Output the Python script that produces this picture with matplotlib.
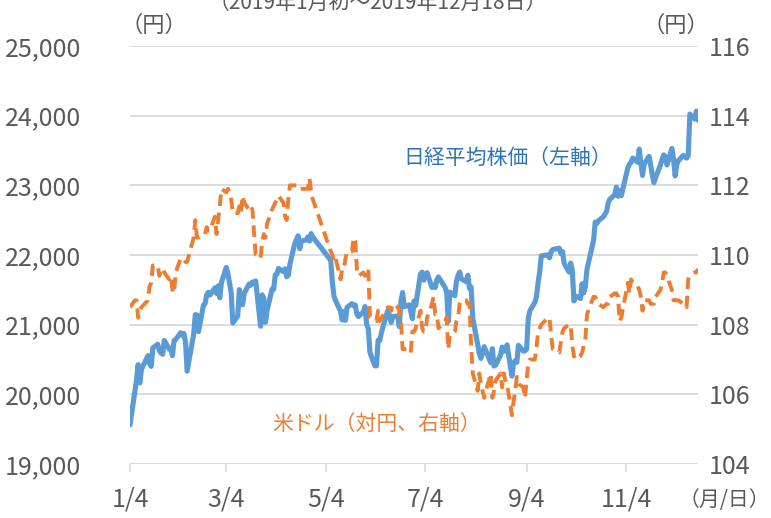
import matplotlib
matplotlib.use("Agg")
import matplotlib.pyplot as plt
import numpy as np
import pandas as pd

plt.rcParams['font.family'] = ['Noto Sans CJK JP', 'DejaVu Sans']

# ---- data (Japanese trading days, 2019) ----
jan_days = ["01-04","01-07","01-08","01-09","01-10","01-11","01-15","01-16","01-17","01-18",
            "01-21","01-22","01-23","01-24","01-25","01-28","01-29","01-30","01-31"]
feb_days = ["02-01","02-04","02-05","02-06","02-07","02-08","02-12","02-13","02-14","02-15",
            "02-18","02-19","02-20","02-21","02-22","02-25","02-26","02-27","02-28"]
mar_days = ["03-01","03-04","03-05","03-06","03-07","03-08","03-11","03-12","03-13","03-14",
            "03-15","03-18","03-19","03-20","03-22","03-25","03-26","03-27","03-28","03-29"]
apr_days = ["04-01","04-02","04-03","04-04","04-05","04-08","04-09","04-10","04-11","04-12",
            "04-15","04-16","04-17","04-18","04-19","04-22","04-23","04-24","04-25","04-26"]
may_days = ["05-07","05-08","05-09","05-10","05-13","05-14","05-15","05-16","05-17","05-20",
            "05-21","05-22","05-23","05-24","05-27","05-28","05-29","05-30","05-31"]
jun_days = ["06-03","06-04","06-05","06-06","06-07","06-10","06-11","06-12","06-13","06-14",
            "06-17","06-18","06-19","06-20","06-21","06-24","06-25","06-26","06-27","06-28"]
jul_days = ["07-01","07-02","07-03","07-04","07-05","07-08","07-09","07-10","07-11","07-12",
            "07-16","07-17","07-18","07-19","07-22","07-23","07-24","07-25","07-26","07-29",
            "07-30","07-31"]
aug_days = ["08-01","08-02","08-05","08-06","08-07","08-08","08-09","08-13","08-14","08-15",
            "08-16","08-19","08-20","08-21","08-22","08-23","08-26","08-27","08-28","08-29","08-30"]
sep_days = ["09-02","09-03","09-04","09-05","09-06","09-09","09-10","09-11","09-12","09-13",
            "09-17","09-18","09-19","09-20","09-24","09-25","09-26","09-27","09-30"]
oct_days = ["10-01","10-02","10-03","10-04","10-07","10-08","10-09","10-10","10-11","10-15",
            "10-16","10-17","10-18","10-21","10-23","10-24","10-25","10-28","10-29","10-30","10-31"]
nov_days = ["11-01","11-05","11-06","11-07","11-08","11-11","11-12","11-13","11-14","11-15",
            "11-18","11-19","11-20","11-21","11-22","11-25","11-26","11-27","11-28","11-29"]
dec_days = ["12-02","12-03","12-04","12-05","12-06","12-09","12-10","12-11","12-12","12-13",
            "12-16","12-17","12-18"]

nikkei = [
    19561,20038,20204,20427,20163,20359,20555,20442,20402,20666,20719,20622,20593,20574,20773,20649,20664,20556,20773,
    20788,20883,20844,20874,20751,20333,20864,21144,21139,20900,21281,21302,21431,21464,21425,21528,21449,21556,21385,
    21602,21822,21726,21596,21456,21025,21125,21503,21290,21287,21451,21584,21566,21608,21627,20977,21428,21378,21033,21205,
    21509,21505,21713,21724,21807,21761,21802,21687,21711,21870,22169,22221,22277,22090,22200,22217,22259,22200,22307,22258,
    21923,21602,21402,21344,21191,21067,21188,21062,21250,21301,21272,21283,21151,21117,21182,21260,21003,20942,20601,
    20410,20408,20776,20774,20884,21134,21204,21129,21032,21116,21124,20972,21333,21462,21258,21285,21193,21086,21338,21275,
    21729,21754,21638,21702,21746,21534,21565,21533,21643,21685,21535,21469,21046,21466,21416,21620,21709,21756,21658,21616,21709,21521,
    21540,21087,20720,20585,20516,20593,20684,20455,20655,20405,20418,20563,20677,20618,20628,20710,20261,20456,20479,20460,20704,
    20620,20625,20649,21085,21199,21318,21392,21597,21759,21988,22001,21960,22044,22079,22098,22020,22048,21878,21755,
    21885,21778,21341,21410,21375,21587,21456,21551,21798,22207,22472,22451,22492,22548,22625,22750,22799,22867,22974,22843,22927,
    22850,23251,23303,23330,23391,23331,23520,23319,23141,23303,23416,23292,23148,23038,23112,23292,23373,23437,23409,23293,
    23529,23379,23135,23300,23354,23430,23410,23391,23424,24023,23952,24066,23934,
]

usdjpy = [
    108.5,108.7,108.7,108.2,108.4,108.5,108.7,109.1,109.2,109.7,109.7,109.4,109.6,109.6,109.5,109.3,109.4,109.0,108.9,
    109.5,109.9,109.9,109.9,109.8,109.8,110.5,111.0,110.5,110.5,110.6,110.6,110.8,110.7,110.7,111.1,110.6,111.0,111.4,
    111.9,111.8,111.9,111.8,111.6,111.2,111.2,111.4,111.2,111.7,111.5,111.3,111.4,111.3,110.0,109.9,110.4,110.6,110.5,110.9,
    111.3,111.4,111.5,111.6,111.7,111.5,111.1,111.0,111.6,112.0,112.0,112.0,112.0,111.9,111.9,111.9,111.9,112.2,111.8,111.6,
    110.1,110.0,109.8,109.9,109.3,109.6,109.6,109.9,110.1,110.1,110.5,110.4,109.6,109.4,109.5,109.4,109.6,109.6,108.2,
    108.1,108.1,108.4,108.1,108.2,108.4,108.5,108.5,108.4,108.6,108.5,108.4,108.1,107.3,107.3,107.3,107.2,107.8,107.8,107.9,
    108.4,107.9,107.8,107.8,108.2,108.6,108.8,108.3,108.3,107.9,108.1,108.2,107.3,107.7,107.8,108.1,108.2,108.6,108.7,108.7,108.6,108.6,
    107.4,106.6,106.1,106.6,106.3,106.1,105.9,106.6,105.9,106.1,106.4,106.6,106.2,106.6,106.4,106.3,105.4,105.8,106.1,106.5,106.3,
    106.2,105.9,106.4,106.9,107.0,107.0,107.3,107.8,107.9,108.0,108.2,108.2,107.7,107.3,107.2,107.5,107.8,107.9,108.0,
    108.0,107.4,107.1,107.0,107.1,107.2,107.4,107.6,108.3,108.8,108.8,108.7,108.6,108.5,108.6,108.6,108.8,108.9,108.9,108.8,108.1,
    108.2,109.2,108.9,109.3,109.2,109.1,109.0,108.8,108.4,108.7,108.7,108.6,108.6,108.6,108.8,109.0,109.2,109.5,109.5,109.4,
    109.0,108.7,108.7,108.7,108.7,108.6,108.6,108.5,109.3,109.4,109.5,109.5,109.6,
]

day_strings = (jan_days + feb_days + mar_days + apr_days + may_days + jun_days +
               jul_days + aug_days + sep_days + oct_days + nov_days + dec_days)
dates = pd.to_datetime(["2019-" + d for d in day_strings])

tick_dates = ["2019-01-04", "2019-03-04", "2019-05-04", "2019-07-04", "2019-09-04", "2019-11-04"]
tick_labels = ["1/4", "3/4", "5/4", "7/4", "9/4", "11/4"]
left_ticks = [19000, 20000, 21000, 22000, 23000, 24000, 25000]
right_ticks = [104, 106, 108, 110, 112, 114, 116]

# ---- figure ----
W, H = 771, 518
fig = plt.figure(figsize=(W / 100, H / 100), dpi=100)
ax = fig.add_axes([130 / W, 1 - 464 / H, (698 - 130) / W, (464 - 46) / H])
ax2 = ax.twinx()

blue = '#5B9BD5'
orange = '#ED7D31'
grid_c = '#D9D9D9'
text_c = '#595959'

ax.plot(dates, nikkei, color=blue, lw=3.7, solid_joinstyle='round', solid_capstyle='round')
ax2.plot(dates, usdjpy, color=orange, lw=2.8, dashes=(3.0, 1.7))

ax.set_ylim(19000, 25000)
ax2.set_ylim(104, 116)
ax.set_xlim(pd.Timestamp("2019-01-04"), pd.Timestamp("2019-12-18"))

ax.set_yticks(left_ticks)
ax.set_yticklabels([f"{v:,}" for v in left_ticks])
ax2.set_yticks(right_ticks)
ax2.set_yticklabels([str(v) for v in right_ticks])

ax.set_xticks(pd.to_datetime(tick_dates))
ax.set_xticklabels(tick_labels)

ax.grid(axis='y', color=grid_c, lw=1.3)
ax.set_axisbelow(True)

for a in (ax, ax2):
    for s in ('top', 'left', 'right', 'bottom'):
        a.spines[s].set_visible(False)

ax.axhline(19000, color=grid_c, lw=1.3, zorder=1)

ax.tick_params(axis='y', length=0, pad=35, labelsize=18, labelcolor=text_c)
ax2.tick_params(axis='y', length=0, pad=8, labelsize=18, labelcolor=text_c)
ax.tick_params(axis='x', length=6, width=1.2, color=grid_c, direction='out',
               pad=10, labelsize=18, labelcolor=text_c)

# ---- texts ----
fig.text(378 / W, 1 - 3 / H, "（2019年1月初～2019年12月18日）", ha='center', va='center',
         fontsize=15, color=text_c)
fig.text(154 / W, 1 - 25 / H, "（円）", ha='center', va='center', fontsize=16, color=text_c)
fig.text(676 / W, 1 - 25 / H, "（円）", ha='center', va='center', fontsize=16, color=text_c)
fig.text(770 / W, 1 - 500 / H, "（月/日）", ha='right', va='center', fontsize=15, color=text_c)
fig.text(403 / W, 1 - 158 / H, "日経平均株価（左軸）", ha='left', va='center',
         fontsize=15, color='#2E75B6')
fig.text(272 / W, 1 - 424 / H, "米ドル（対円、右軸）", ha='left', va='center',
         fontsize=15, color=orange)

fig.savefig("out.png", dpi=100)
